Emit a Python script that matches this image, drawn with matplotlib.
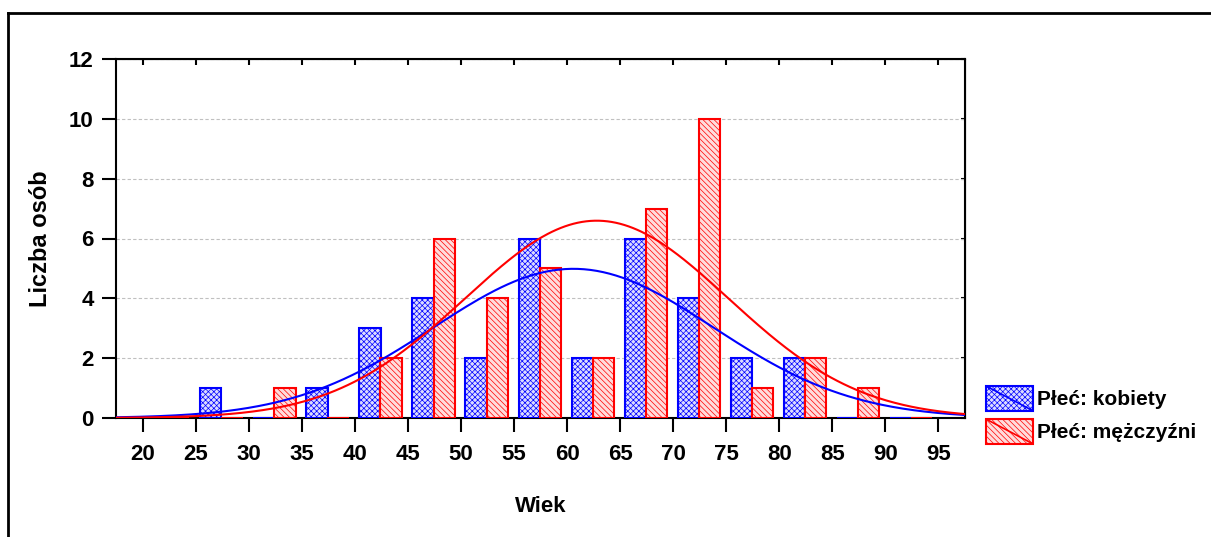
import numpy as np
import matplotlib
matplotlib.use('Agg')
import matplotlib.pyplot as plt
from matplotlib.patches import Rectangle
from matplotlib.lines import Line2D
from matplotlib.legend_handler import HandlerBase

plt.rcParams['font.family'] = ['Liberation Sans', 'DejaVu Sans']
plt.rcParams['font.weight'] = 'bold'
plt.rcParams['hatch.linewidth'] = 0.5

# ---- data: 5-year age bins (bin start), counts per sex ----
bin_start = [20, 25, 30, 35, 40, 45, 50, 55, 60, 65, 70, 75, 80, 85, 90]
kobiety   = [0, 1, 0, 1, 3, 4, 2, 6, 2, 6, 4, 2, 2, 0, 0]
mezczyzni = [0, 0, 1, 0, 2, 6, 4, 5, 2, 7, 10, 1, 2, 1, 0]

# fitted normal curves (mean, sd, n)
fit_k = dict(mean=60.6, sd=13.2, n=33)
fit_m = dict(mean=62.8, sd=12.4, n=41)

xticks = [20, 25, 30, 35, 40, 45, 50, 55, 60, 65, 70, 75, 80, 85, 90, 95]
yticks = [0, 2, 4, 6, 8, 10, 12]

blue = '#0000ff'
red = '#ff0000'
fs = 16

fig = plt.figure(figsize=(12.11, 5.37), dpi=100)
ax = fig.add_axes([116/1211, 1-418/537, (965-116)/1211, (418-59)/537])

starts = np.array(bin_start, dtype=float)
ax.bar(starts + 1.43, kobiety, width=2.0, facecolor='#dcdcff', edgecolor=blue,
       hatch='xxxxxx', linewidth=1.5, zorder=3)
ax.bar(starts + 3.42, mezczyzni, width=2.0, facecolor='#ffdcdc', edgecolor=red,
       hatch='\\\\\\\\\\\\', linewidth=1.5, zorder=3)

xs = np.linspace(17.5, 97.5, 400)
for fit, col in [(fit_k, blue), (fit_m, red)]:
    dens = fit['n'] * 5 / (fit['sd'] * np.sqrt(2 * np.pi)) * np.exp(-0.5 * ((xs - fit['mean']) / fit['sd'])**2)
    ax.plot(xs, dens, color=col, linewidth=1.5, zorder=4)

ax.set_xlim(17.5, 97.5)
ax.set_ylim(0, 12)
ax.set_xticks(xticks)
ax.set_yticks(yticks)
ax.tick_params(axis='both', direction='out', length=10, width=1.5, labelsize=fs, pad=6)
ax.tick_params(axis='x', pad=9)
for s in ax.spines.values():
    s.set_linewidth(1.5)
ax.yaxis.grid(True, linestyle=(0, (3, 2)), color='#c0c0c0', linewidth=0.8)
ax.set_axisbelow(True)

top = ax.secondary_xaxis('top')
top.set_xticks(xticks)
top.tick_params(direction='in', length=4, width=1.5, labeltop=False)
right = ax.secondary_yaxis('right')
right.set_yticks(yticks)
right.tick_params(direction='in', length=3, width=1.5, labelright=False)

ax.set_xlabel('Wiek', fontsize=fs, fontweight='bold', labelpad=22)
ax.set_ylabel('Liczba osób', fontsize=17, fontweight='bold', labelpad=12)


class DiagHandler(HandlerBase):
    def create_artists(self, legend, orig, xd, yd, w, h, fontsize, trans):
        r = Rectangle((-xd, -yd), w, h, facecolor=orig.get_facecolor(),
                      edgecolor=orig.get_edgecolor(), hatch=orig.get_hatch(),
                      linewidth=1.5, transform=trans)
        l = Line2D([-xd, -xd + w], [-yd + h, -yd], color=orig.get_edgecolor(),
                   linewidth=1.2, transform=trans)
        return [r, l]


h1 = Rectangle((0, 0), 1, 1, facecolor='#dcdcff', edgecolor=blue, hatch='xxxxxx')
h2 = Rectangle((0, 0), 1, 1, facecolor='#ffdcdc', edgecolor=red, hatch='\\\\\\\\\\\\')
fig.legend([h1, h2], ['Płeć: kobiety', 'Płeć: mężczyźni'],
           handler_map={Rectangle: DiagHandler()},
           loc='upper left', bbox_to_anchor=(986/1211, 1-386/537),
           frameon=False, borderpad=0, borderaxespad=0,
           handlelength=2.25, handleheight=1.45, handletextpad=0.2,
           labelspacing=0.4, prop={'size': 15, 'weight': 'bold'})

# outer frame
fig.add_artist(Line2D([8/1211, 1], [1-13/537, 1-13/537], color='black', linewidth=2,
                      transform=fig.transFigure))
fig.add_artist(Line2D([8/1211, 8/1211], [0, 1-13/537], color='black', linewidth=2,
                      transform=fig.transFigure))

fig.savefig('out.png', dpi=100, facecolor='white')
